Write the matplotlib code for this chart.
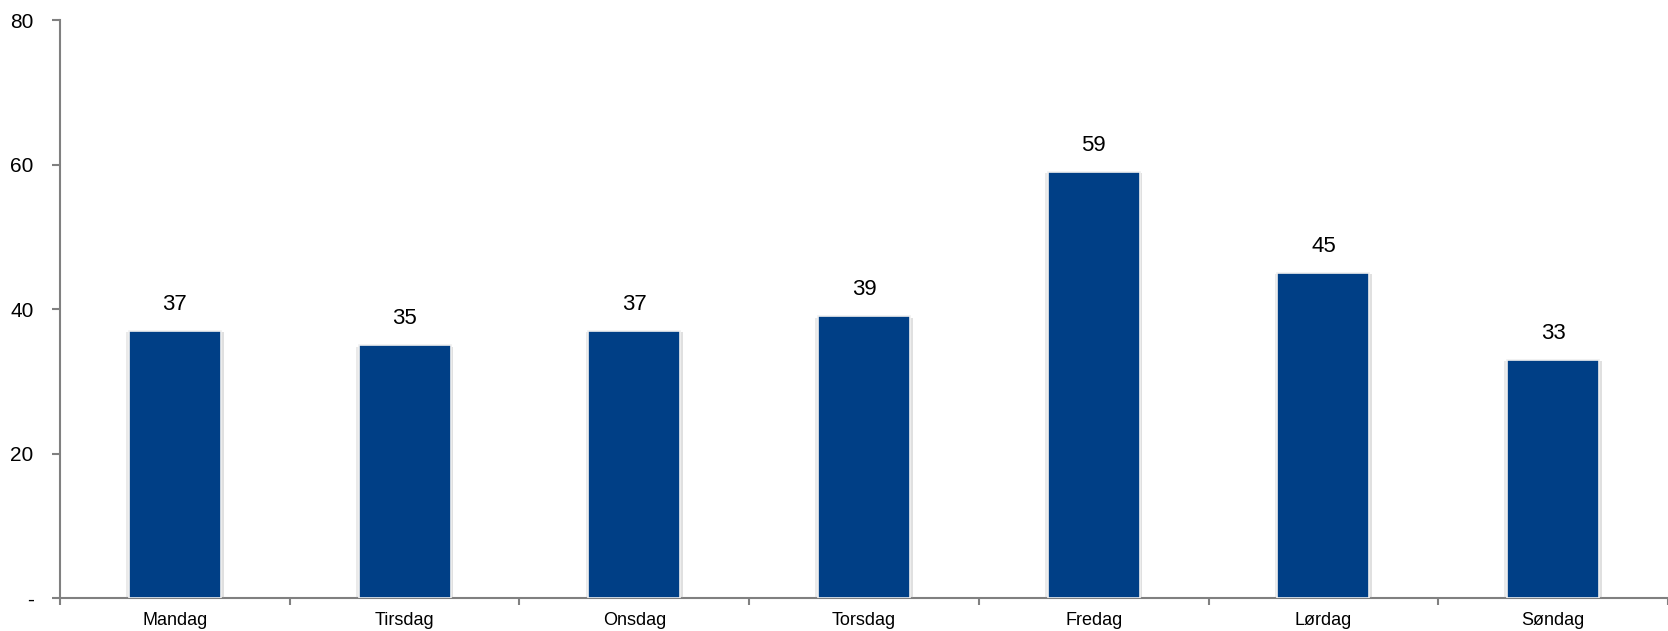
import matplotlib.pyplot as plt
import matplotlib.patheffects as pe
import numpy as np

# Data
dager = ["Mandag", "Tirsdag", "Onsdag", "Torsdag", "Fredag", "Lørdag", "Søndag"]
verdier = [37, 35, 37, 39, 59, 45, 33]
y_ticks = [0, 20, 40, 60, 80]
y_labels = ["-", "20", "40", "60", "80"]

plt.rcParams["font.family"] = ["Liberation Sans", "DejaVu Sans"]

fig = plt.figure(figsize=(16.68, 6.31), dpi=100)
ax = fig.add_axes([60 / 1668, 1 - 598 / 631, 1 - 60 / 1668, (598 - 20) / 631])

x = np.arange(len(dager))
bars = ax.bar(x, verdier, width=0.4, color="#003F86", edgecolor="#f0f0f0", linewidth=1.2, zorder=3)
for b in bars:
    b.set_path_effects([
        pe.SimplePatchShadow(offset=(2, -1), shadow_rgbFace="#999999", alpha=0.3),
        pe.SimplePatchShadow(offset=(-2, -1), shadow_rgbFace="#999999", alpha=0.2),
        pe.Normal()])

for xi, v in zip(x, verdier):
    ax.annotate(str(v), (xi, v), xytext=(0, 11.5), textcoords="offset points",
                ha="center", va="bottom", fontsize=16)

ax.set_xlim(-0.5, -0.5 + 1608 / 231.3)
ax.set_ylim(0, 80)
ax.set_yticks(y_ticks)
ax.set_yticklabels(y_labels, fontsize=15)
ax.set_xticks(x)
ax.set_xticklabels(dager, fontsize=13)
ax.set_xticks(np.arange(-0.5, len(dager), 1), minor=True)

ax.tick_params(axis="x", which="major", length=0, pad=10)
ax.tick_params(axis="x", which="minor", length=5, width=1.5, color="#808080")
ax.tick_params(axis="y", length=6, width=1.5, color="#808080", pad=13)

for s in ["top", "right"]:
    ax.spines[s].set_visible(False)
for s in ["left", "bottom"]:
    ax.spines[s].set_color("#808080")
    ax.spines[s].set_linewidth(1.5)

fig.savefig("out.png", dpi=100)
